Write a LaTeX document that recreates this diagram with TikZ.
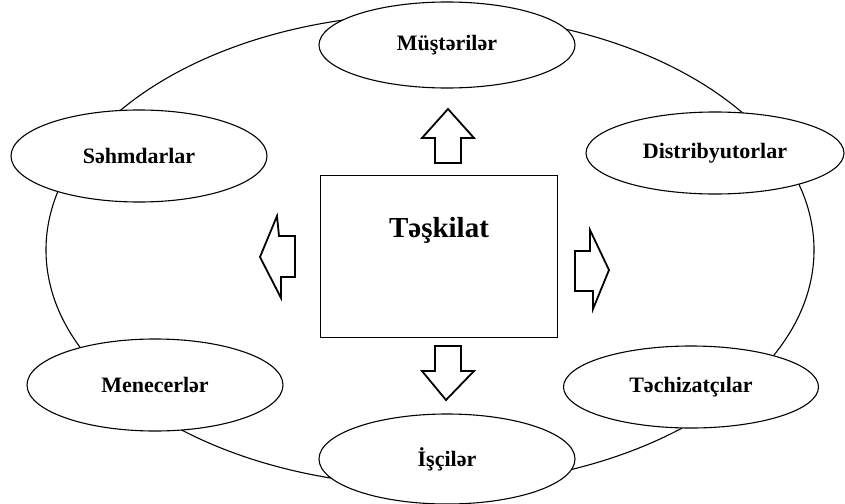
\documentclass[tikz,border=0pt]{standalone}
\usepackage{fontspec}
\setmainfont{Liberation Serif}
\usetikzlibrary{shapes.geometric}
\tikzset{party/.style={draw, ellipse, fill=white, line width=1.1pt, inner sep=0pt,
    minimum width=256pt, font=\bfseries\fontsize{22}{26}\selectfont}}
\tikzset{blockarrow/.style={draw, line width=1.8pt, line join=miter, fill=white}}

\begin{document}
\begin{tikzpicture}[x=1pt, y=-1pt]
        \useasboundingbox (0,0) rectangle (845,503);

        \draw[line width=1.1pt] (430,250) ellipse [x radius=384, y radius=236];

        \node[draw, line width=1.4pt, minimum width=237pt, minimum height=162pt, inner sep=0pt] (Org) at (439,256.5) {};
        \node[font=\bfseries\fontsize{29}{34}\selectfont] (OrgName) at (439,230) {Təşkilat};

        \node[party, minimum height=86pt] (Cust) at (447,45) {Müştərilər};
        \node[party, minimum height=92pt] (Share) at (139,156) {Səhmdarlar};
        \node[party, minimum width=258pt, minimum height=82pt] (Dist) at (715,153) {Distribyutorlar};
        \node[party, minimum height=92pt] (Mgr) at (155,385) {Menecerlər};
        \node[party, minimum width=255pt, minimum height=82pt] (Supp) at (691,387) {Təchizatçılar};
        \node[party, minimum height=90pt] (Work) at (447,459) {İşçilər};

        % block arrows out of the organisation
        \draw[blockarrow] (435,163) -- (435,138) -- (422,138) -- (448,109) -- (474,138) -- (461,138) -- (461,163) -- cycle;
        \draw[blockarrow] (435,346) -- (461,346) -- (461,371) -- (474,371) -- (446,400) -- (422,371) -- (435,371) -- cycle;
        \draw[blockarrow] (295,236) -- (279,236) -- (277,216) -- (260,257) -- (281,298) -- (281,277) -- (295,277) -- cycle;
        \draw[blockarrow] (575,251) -- (590,251) -- (590,230) -- (609,270) -- (593,309) -- (593,291) -- (575,291) -- cycle;
    \end{tikzpicture}
\end{document}
